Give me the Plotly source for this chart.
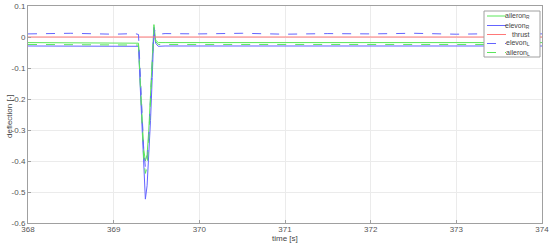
import plotly.graph_objects as go

t = [368.0, 368.5, 369.0, 369.25, 369.29, 369.31, 369.33, 369.35, 369.37, 369.39,
     369.41, 369.43, 369.45, 369.47, 369.49, 369.52, 369.6, 370.0, 370.5, 371.0,
     371.5, 372.0, 372.5, 373.0, 373.5, 374.0]

aileron_R = [-0.018, -0.018, -0.018, -0.018, -0.02, -0.14, -0.26, -0.36, -0.40, -0.38,
             -0.30, -0.20, -0.09, 0.04, -0.01, -0.018, -0.018, -0.018, -0.018, -0.018,
             -0.018, -0.018, -0.018, -0.018, -0.018, -0.018]
elevon_R = [-0.029, -0.029, -0.029, -0.029, -0.03, -0.16, -0.29, -0.42, -0.523, -0.48,
            -0.39, -0.27, -0.13, 0.02, -0.02, -0.03, -0.029, -0.029, -0.029, -0.029,
            -0.029, -0.029, -0.029, -0.029, -0.029, -0.029]
thrust = [0.0] * len(t)
elevon_L = [0.010, 0.012, 0.009, 0.011, 0.008, -0.12, -0.25, -0.36, -0.42, -0.40,
            -0.32, -0.21, -0.09, 0.03, 0.012, 0.009, 0.011, 0.010, 0.012, 0.009,
            0.011, 0.010, 0.012, 0.009, 0.011, 0.010]
aileron_L = [-0.024, -0.024, -0.024, -0.024, -0.026, -0.15, -0.28, -0.39, -0.44, -0.42,
             -0.33, -0.22, -0.10, 0.03, -0.015, -0.024, -0.024, -0.024, -0.024, -0.024,
             -0.024, -0.024, -0.024, -0.024, -0.024, -0.024]

x_ticks = [368, 369, 370, 371, 372, 373, 374]
y_ticks = [0.1, 0, -0.1, -0.2, -0.3, -0.4, -0.5, -0.6]
y_labels = ["0.1", "0", "-0.1", "-0.2", "-0.3", "-0.4", "-0.5", "-0.6"]

series_names = ["aileron<sub>R</sub>", "elevon<sub>R</sub>", "thrust",
                "elevon<sub>L</sub>", "aileron<sub>L</sub>"]

green = "rgb(90,230,90)"
blue = "rgb(100,100,255)"
red = "rgb(255,120,120)"
styles = [(green, "solid"), (blue, "solid"), (red, "solid"), (blue, "dash"), (green, "dash")]
series = [aileron_R, elevon_R, thrust, elevon_L, aileron_L]

W, H = 550, 246
L, R, T, B = 28, 8, 6, 23
pw, ph = W - L - R, H - T - B


def px(x):
    return (x - L) / pw


def py(y):
    return 1 - (y - T) / ph


fig = go.Figure()
for name, vals, (col, dash) in zip(series_names, series, styles):
    fig.add_trace(go.Scatter(x=t, y=vals, mode="lines", name=name, showlegend=False,
                             line=dict(color=col, width=1, dash=dash)))

axis_common = dict(showline=True, linecolor="#a0a0a0", linewidth=1, mirror=True,
                   showgrid=True, gridcolor="#ebebeb", gridwidth=1,
                   ticks="inside", ticklen=3, tickcolor="#a0a0a0",
                   tickfont=dict(size=8, color="#555555", family="Liberation Sans"),
                   zeroline=False, automargin=False)

shapes = []
annotations = []
# manual legend box
shapes.append(dict(type="rect", xref="paper", yref="paper",
                   x0=px(484), x1=px(540), y0=py(57), y1=py(11),
                   line=dict(color="#a0a0a0", width=1), fillcolor="white", layer="above"))
entry_y = [16, 25.5, 34.5, 43.5, 52.5]
for yy, name, (col, dash) in zip(entry_y, series_names, styles):
    shapes.append(dict(type="line", xref="paper", yref="paper",
                       x0=px(487), x1=px(506), y0=py(yy), y1=py(yy),
                       line=dict(color=col, width=1, dash=dash), layer="above"))
    annotations.append(dict(xref="paper", yref="paper", x=px(532), y=py(yy),
                            text=name, showarrow=False, xanchor="right", yanchor="middle",
                            font=dict(size=7, color="#444444", family="Liberation Sans")))

annotations.append(dict(xref="paper", yref="paper", x=px(285), y=py(239), text="time [s]",
                        showarrow=False, xanchor="center", yanchor="middle",
                        font=dict(size=8, color="#444444", family="Liberation Sans")))
annotations.append(dict(xref="paper", yref="paper", x=px(9), y=py(116), text="deflection [-]",
                        showarrow=False, xanchor="center", yanchor="middle", textangle=-90,
                        font=dict(size=8, color="#444444", family="Liberation Sans")))

fig.update_layout(
    width=W, height=H,
    margin=dict(l=L, r=R, t=T, b=B, autoexpand=False),
    paper_bgcolor="white", plot_bgcolor="white",
    font=dict(family="Liberation Sans", size=8, color="#444444"),
    xaxis=dict(range=[368, 374], tickvals=x_ticks, ticklabelstandoff=-2, **axis_common),
    yaxis=dict(range=[-0.6, 0.1], tickvals=y_ticks, ticktext=y_labels, **axis_common),
    shapes=shapes, annotations=annotations,
    showlegend=False,
)

fig.write_html("out.html", config={"displayModeBar": False},
               post_script="document.body.style.margin='0px';document.body.style.overflow='hidden';")
